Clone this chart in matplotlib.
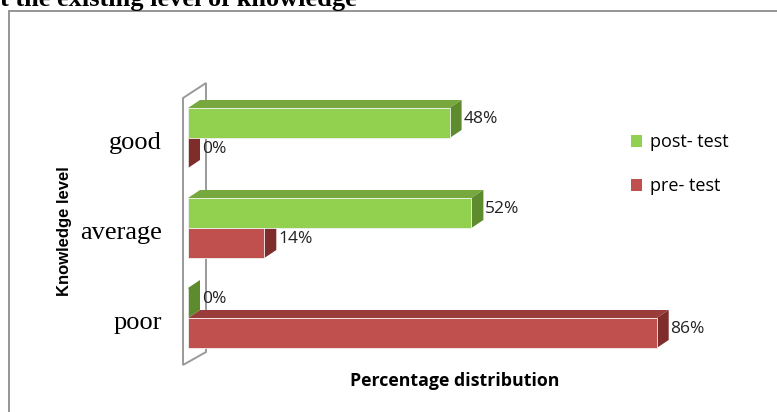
import matplotlib
matplotlib.use("Agg")
import matplotlib.pyplot as plt
import matplotlib.transforms as mtransforms
from matplotlib.patches import Polygon, Rectangle, Patch

levels = ["poor", "average", "good"]
post_test = [0, 52, 48]
pre_test = [86, 14, 0]
series_names = ["post- test", "pre- test"]

green = ["#92D050", "#76A83E", "#5F8B2F"]   # front, top, side
red = ["#C0504D", "#9A3C39", "#7E2D2B"]

W, H = 777, 412
fig = plt.figure(figsize=(W / 100, H / 100), dpi=100)

# axes placed so that 0 % sits at x=188 px, 1 % = 5.45 px, one category = 90 px
x0_px, px_per_pct = 188, 5.45
xmax = 545 / px_per_pct
ax = fig.add_axes([x0_px / W, 40 / H, 545 / W, 290 / H])
ax.set_xlim(0, xmax)
ax.set_ylim(-0.6, -0.6 + 290 / 90)

bh = 30 / 90          # bar thickness
dx = 12 / px_per_pct  # 3d depth
dy = 8 / 90


def bar3d(y0, v, cols, z):
    x1 = v
    front = Rectangle((0, y0), x1, bh, facecolor=cols[0], edgecolor="#f0f0f0",
                      lw=0.6, zorder=z + 0.2)
    top = Polygon([(0, y0 + bh), (x1, y0 + bh), (x1 + dx, y0 + bh + dy),
                   (dx, y0 + bh + dy)], closed=True, facecolor=cols[1],
                  edgecolor="none", zorder=z)
    side = Polygon([(x1, y0), (x1 + dx, y0 + dy), (x1 + dx, y0 + bh + dy),
                    (x1, y0 + bh)], closed=True, facecolor=cols[2],
                   edgecolor="none", zorder=z + 0.1)
    for p in (front, top, side):
        p.set_clip_on(False)
        ax.add_patch(p)


# side wall outline
wx0, wx1 = -5 / px_per_pct, 18 / px_per_pct
wall = Polygon([(wx0, -0.522), (wx0, 2.444), (wx1, 2.611), (wx1, -0.378)],
               closed=True, fill=False, edgecolor="#9a9a9a", lw=1.4, zorder=1)
wall.set_clip_on(False)
ax.add_patch(wall)

lab_font = dict(family="Open Sans", fontsize=12.5, color="#222222")
for i, lev in enumerate(levels):
    bar3d(i - bh, pre_test[i], red, 3)
    bar3d(i, post_test[i], green, 4)
    ax.text(post_test[i] + dx + 0.3, i + bh / 2 + dy / 2, f"{post_test[i]}%",
            ha="left", va="center", **lab_font)
    ax.text(pre_test[i] + dx + 0.3, i - bh / 2 + dy / 2, f"{pre_test[i]}%",
            ha="left", va="center", **lab_font)

ax.set_yticks(range(len(levels)))
ax.set_yticklabels(levels, family="Liberation Serif", fontsize=19)
ax.tick_params(axis="y", length=0, pad=19)
shift = mtransforms.ScaledTranslation(0, -3 / 100, fig.dpi_scale_trans)
for t in ax.get_yticklabels():
    t.set_transform(t.get_transform() + shift)
ax.set_xticks([])
for s in ax.spines.values():
    s.set_visible(False)
ax.patch.set_visible(False)

ax.set_ylabel("Knowledge level", family="Liberation Sans", fontweight="bold",
              fontsize=12)
ax.yaxis.set_label_coords(-0.213, 0.486)
ax.set_xlabel("Percentage distribution", family="Open Sans", fontweight="bold",
              fontsize=12.8)
ax.xaxis.set_label_coords(0.49, -0.03)
ax.xaxis.label.set_va("center")

handles = [Patch(facecolor=green[0]), Patch(facecolor=red[0])]
fig.legend(handles, series_names, loc="upper left",
           bbox_to_anchor=(615 / W, 1 - 117 / H), frameon=False,
           handlelength=0.6, handleheight=0.6, handletextpad=0.45,
           labelspacing=1.45, prop=dict(family="Open Sans", size=13))

# outer frame and cropped title
fig.add_artist(Rectangle((9 / W, -0.1), 1.2, 1.1 - 11 / H, fill=False,
                         edgecolor="#8c8c8c", lw=1.3, transform=fig.transFigure))
fig.text(0, 1 - 6 / H, "t the existing level of knowledge", ha="left",
         va="baseline", family="Liberation Serif", fontweight="bold", fontsize=19)

fig.savefig("out.png", dpi=100)
